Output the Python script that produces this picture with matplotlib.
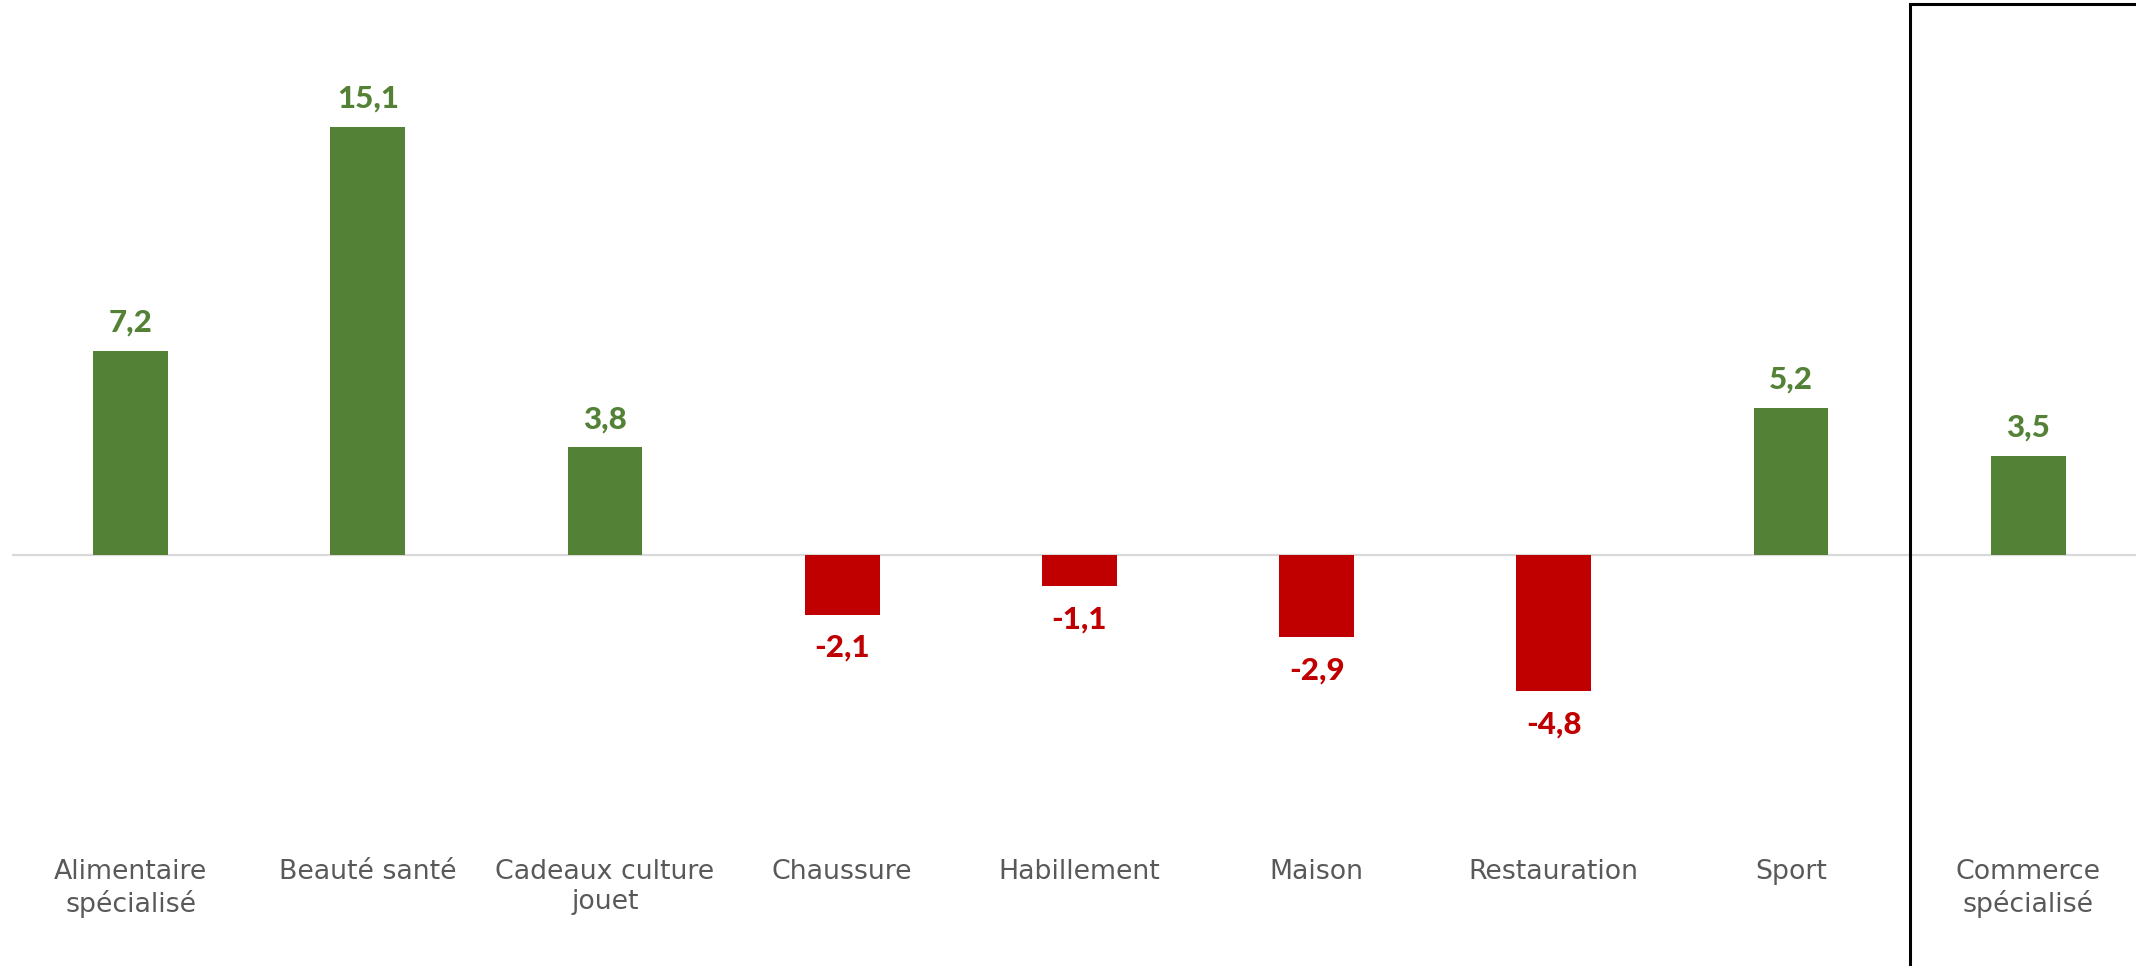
import matplotlib
matplotlib.use("Agg")
import matplotlib.pyplot as plt
from matplotlib.transforms import blended_transform_factory
from matplotlib.patches import Rectangle

categories = ["Alimentaire\nspécialisé", "Beauté santé", "Cadeaux culture\njouet",
              "Chaussure", "Habillement", "Maison", "Restauration", "Sport",
              "Commerce\nspécialisé"]
values = [7.2, 15.1, 3.8, -2.1, -1.1, -2.9, -4.8, 5.2, 3.5]

GREEN = "#538135"
RED = "#C00000"
GREY_TEXT = "#595959"

W, H, DPI = 2136, 966, 100
fig = plt.figure(figsize=(W / DPI, H / DPI), dpi=DPI)
fig.patch.set_facecolor("white")

# axes spans the full canvas height; x slots are 237.2 px wide starting at 12 px
slot = 237.2
left_px = 12
ax = fig.add_axes([left_px / W, 0, 1 - left_px / W, 1])
ax.set_xlim(-0.5, -0.5 + (W - left_px) / slot)
px_per_unit = 28.35
zero_px = 555
ax.set_ylim(-(H - zero_px) / px_per_unit, zero_px / px_per_unit)
ax.axis("off")

x = list(range(len(values)))
colors = [GREEN if v >= 0 else RED for v in values]
ax.bar(x, values, width=0.316, color=colors, zorder=2)
ax.axhline(0, color="#D9D9D9", lw=1.6, zorder=1)

for xi, v, c in zip(x, values, colors):
    label = f"{v:.1f}".replace(".", ",")
    if v >= 0:
        ax.annotate(label, (xi, v), xytext=(0, 14), textcoords="offset pixels",
                    ha="center", va="bottom", fontsize=22.5, fontweight=900,
                    family="Lato", color=c)
    else:
        ax.annotate(label, (xi, v), xytext=(0, -19), textcoords="offset pixels",
                    ha="center", va="top", fontsize=22.5, fontweight=900,
                    family="Lato", color=c)

trans = blended_transform_factory(ax.transData, fig.transFigure)
for xi, cat in zip(x, categories):
    ax.text(xi, 1 - 859 / H, cat, transform=trans, ha="center", va="top",
            fontsize=19.3, family="DejaVu Sans", color=GREY_TEXT,
            linespacing=1.22)

# frame around the overall total
fig.patches.append(Rectangle((1910 / W, -0.01), (W - 1910 + 5) / W, 1 - 4 / H + 0.01,
                             transform=fig.transFigure, fill=False,
                             edgecolor="black", lw=2.2))

fig.savefig("out.png", dpi=DPI)
